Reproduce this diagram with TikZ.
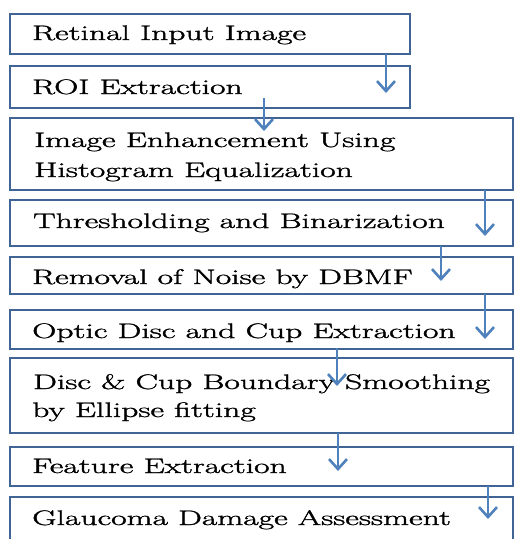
\documentclass[tikz,border=0pt]{standalone}
\usepackage{graphicx}
\usepackage{fontspec}
\newfontfamily\lblfont{Latin Modern Roman}[FakeBold=1.2]
\usetikzlibrary{arrows.meta}
\definecolor{boxcol}{RGB}{64,100,150}
\definecolor{arrcol}{RGB}{79,129,189}
\newcommand{\wtxt}[1]{\scalebox{1.6}[1]{#1}}
\begin{document}
\begin{tikzpicture}[x=1pt,y=-1pt,
  box/.style={draw=boxcol,line width=2pt,fill=white,anchor=north west,inner sep=0pt,outer sep=0pt},
  lbl/.style={anchor=base west,inner sep=0pt,font=\lblfont\fontsize{21}{24}\selectfont},
  arr/.style={draw=arrcol,line width=2.6pt,-{Straight Barb[length=10pt,width=18pt,line width=2.6pt]}}]
\useasboundingbox (0,0) rectangle (514,539);
\clip (0,0) rectangle (514,539);
% boxes
\node[box,minimum width=400pt,minimum height=40pt] (b1) at (10,14) {};
\node[box,minimum width=400pt,minimum height=42pt] (b2) at (10,66) {};
\node[box,minimum width=503pt,minimum height=72pt] (b3) at (10,118) {};
\node[box,minimum width=503pt,minimum height=46pt] (b4) at (10,200) {};
\node[box,minimum width=503pt,minimum height=37pt] (b5) at (10,257) {};
\node[box,minimum width=503pt,minimum height=39pt] (b6) at (10,310) {};
\node[box,minimum width=503pt,minimum height=75pt] (b7) at (10,358) {};
\node[box,minimum width=503pt,minimum height=39pt] (b8) at (10,447) {};
\node[box,minimum width=503pt,minimum height=60pt] (b9) at (10,497) {};
% labels
\node[lbl] (l1) at (32,40) {\wtxt{Retinal Input Image}};
\node[lbl] (l2) at (32,94) {\wtxt{ROI Extraction}};
\node[lbl] (l3a) at (34,147) {\wtxt{Image Enhancement Using}};
\node[lbl] (l3b) at (34,177) {\wtxt{Histogram Equalization}};
\node[lbl] (l4) at (33,228) {\wtxt{Thresholding and Binarization}};
\node[lbl] (l5) at (32,284) {\wtxt{Removal of Noise by DBMF}};
\node[lbl] (l6) at (32,338) {\wtxt{Optic Disc and Cup Extraction}};
\node[lbl] (l7a) at (33,389) {\wtxt{Disc \& Cup Boundary Smoothing}};
\node[lbl] (l7b) at (32,417) {\wtxt{by Ellipse fitting}};
\node[lbl] (l8) at (32,473) {\wtxt{Feature Extraction}};
\node[lbl] (l9) at (32,525) {\wtxt{Glaucoma Damage Assessment}};
% arrow tips
\coordinate (t1) at (386,93);
\coordinate (t2) at (264,131);
\coordinate (t3) at (485,236);
\coordinate (t4) at (441,281);
\coordinate (t5) at (485,339);
\coordinate (t6) at (337,386);
\coordinate (t7) at (338,471);
\coordinate (t8) at (488,519);
\coordinate (s2) at (264,98);
\coordinate (s6) at (337,348);
% arrows
\draw[arr] (t1 |- b1.south) -- (t1);
\draw[arr] (s2) -- (t2);
\draw[arr] (t3 |- b3.south) -- (t3);
\draw[arr] (t4 |- b4.south) -- (t4);
\draw[arr] (t5 |- b5.south) -- (t5);
\draw[arr] (s6) -- (t6);
\draw[arr] (t7 |- b7.south) -- (t7);
\draw[arr] (t8 |- b8.south) -- (t8);
\end{tikzpicture}
\end{document}
